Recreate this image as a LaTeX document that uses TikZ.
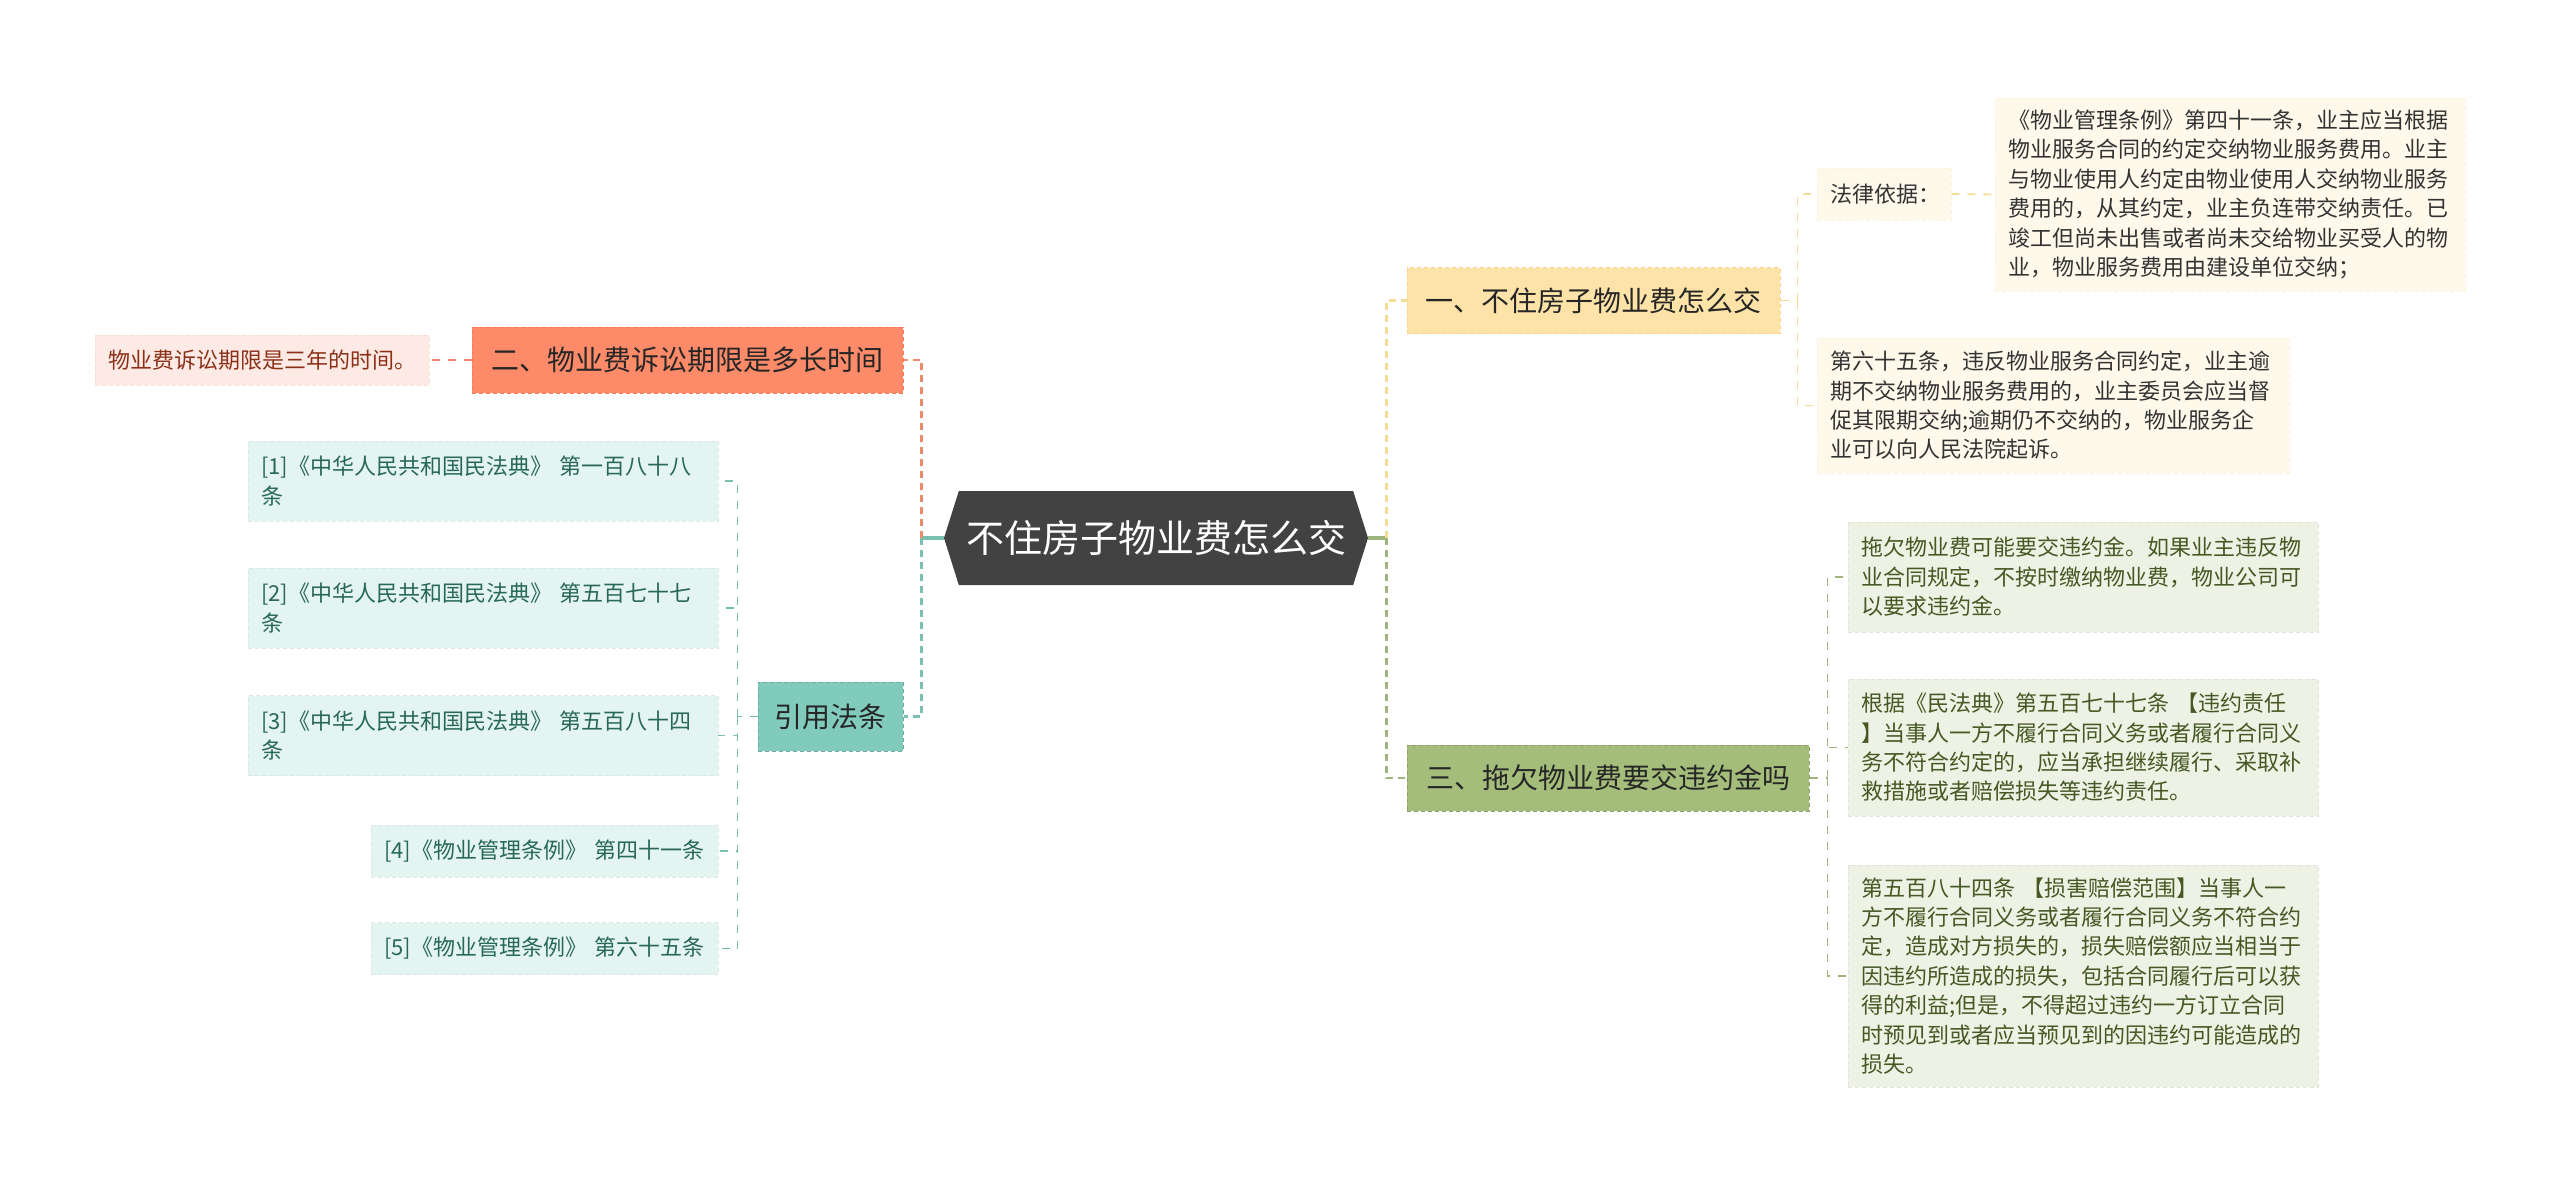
\documentclass[tikz,border=0pt]{standalone}
\usepackage{fontspec}
\setmainfont{Noto Sans CJK SC}
\usetikzlibrary{positioning,shapes.symbols,calc}
\definecolor{RootGray}{RGB}{66,66,66}
\definecolor{YelFill}{RGB}{253,227,168}
\definecolor{YelLine}{RGB}{243,220,150}
\definecolor{YelLeaf}{RGB}{254,249,235}
\definecolor{SalFill}{RGB}{253,138,104}
\definecolor{SalLine}{RGB}{236,138,106}
\definecolor{SalLeaf}{RGB}{253,234,228}
\definecolor{SalText}{RGB}{140,48,24}
\definecolor{OliFill}{RGB}{164,189,122}
\definecolor{OliLine}{RGB}{158,180,124}
\definecolor{OliLeaf}{RGB}{238,242,228}
\definecolor{OliText}{RGB}{70,88,36}
\definecolor{TeaFill}{RGB}{128,203,187}
\definecolor{TeaLine}{RGB}{122,192,176}
\definecolor{TeaLeaf}{RGB}{228,244,240}
\definecolor{TeaText}{RGB}{40,104,90}
\begin{document}
\begin{tikzpicture}[
   x=1pt, y=-1pt,
   root/.style={signal, signal to=west and east, signal pointer angle=145,
               fill=RootGray, text=white, font=\fontsize{38}{44}\selectfont,
               minimum width=424pt, minimum height=94pt, inner sep=0pt},
   topic/.style={rectangle, dash pattern=on 4pt off 3pt, line width=1pt, text=black!85,
               font=\fontsize{28}{34}\selectfont, minimum height=66pt, inner sep=0pt},
   leaf/.style={rectangle, dash pattern=on 4pt off 3pt, line width=0.8pt, align=left,
               inner xsep=13pt, inner ysep=0pt, font=\fontsize{22}{29.4}\selectfont},
   stub/.style={line width=4pt},
   link/.style={line width=2.8pt, dash pattern=on 7pt off 5pt},
   sub/.style={line width=1.8pt, dash pattern=on 8pt off 8pt}]
   \useasboundingbox (0,0) rectangle (2560,1183);
   % centre
   \node[root] (root) at (1156,538) {不住房子物业费怎么交};
   % right, upper branch
   \node[topic, fill=YelFill, draw=YelFill!85!orange, minimum width=373pt] (how) at (1593.5,300.5) {一、不住房子物业费怎么交};
   \node[leaf, fill=YelLeaf, draw=YelLeaf!94!orange, text=black!80, text width=108pt, minimum height=52pt] (law) at (1884,194) {法律依据：};
   \node[leaf, fill=YelLeaf, draw=YelLeaf!94!orange, text=black!80, text width=444pt, minimum height=193pt] (art41) at (2230,194.5)
      {《物业管理条例》第四十一条，业主应当根据\\物业服务合同的约定交纳物业服务费用。业主\\与物业使用人约定由物业使用人交纳物业服务\\费用的，从其约定，业主负连带交纳责任。已\\竣工但尚未出售或者尚未交给物业买受人的物\\业，物业服务费用由建设单位交纳；};
   \node[leaf, fill=YelLeaf, draw=YelLeaf!94!orange, text=black!80, text width=446pt, minimum height=135pt] (art65) at (2053,405.5)
      {第六十五条，违反物业服务合同约定，业主逾\\期不交纳物业服务费用的，业主委员会应当督\\促其限期交纳;逾期仍不交纳的，物业服务企\\业可以向人民法院起诉。};
   % right, lower branch
   \node[topic, fill=OliFill, draw=OliFill!85!black, minimum width=402pt] (fine) at (1608,778) {三、拖欠物业费要交违约金吗};
   \node[leaf, fill=OliLeaf, draw=OliLeaf!94!black, text=OliText, text width=444pt, minimum height=110pt] (owe) at (2083,577)
      {拖欠物业费可能要交违约金。如果业主违反物\\业合同规定，不按时缴纳物业费，物业公司可\\以要求违约金。};
   \node[leaf, fill=OliLeaf, draw=OliLeaf!94!black, text=OliText, text width=444pt, minimum height=137pt] (art577) at (2083,747.5)
      {根据《民法典》第五百七十七条 【违约责任\\】当事人一方不履行合同义务或者履行合同义\\务不符合约定的，应当承担继续履行、采取补\\救措施或者赔偿损失等违约责任。};
   \node[leaf, fill=OliLeaf, draw=OliLeaf!94!black, text=OliText, text width=444pt, minimum height=222pt] (art584) at (2083,976)
      {第五百八十四条 【损害赔偿范围】当事人一\\方不履行合同义务或者履行合同义务不符合约\\定，造成对方损失的，损失赔偿额应当相当于\\因违约所造成的损失，包括合同履行后可以获\\得的利益;但是，不得超过违约一方订立合同\\时预见到或者应当预见到的因违约可能造成的\\损失。};
   % left, upper branch
   \node[topic, fill=SalFill, draw=SalFill!85!red, minimum width=431pt] (limit) at (687.5,360) {二、物业费诉讼期限是多长时间};
   \node[leaf, fill=SalLeaf, draw=SalLeaf!94!red, text=SalText, text width=308pt, minimum height=50pt] (three) at (262,360) {物业费诉讼期限是三年的时间。};
   % left, lower branch
   \node[topic, fill=TeaFill, draw=TeaFill!85!black, minimum width=145pt, minimum height=69pt] (cite) at (830.5,716.5) {引用法条};
   \node[leaf, fill=TeaLeaf, draw=TeaLeaf!95!black, text=TeaText, text width=444pt, minimum height=80pt] (ref1) at (483,481) {[1]《中华人民共和国民法典》 第一百八十八\\条};
   \node[leaf, fill=TeaLeaf, draw=TeaLeaf!95!black, text=TeaText, text width=444pt, minimum height=80pt] (ref2) at (483,608) {[2]《中华人民共和国民法典》 第五百七十七\\条};
   \node[leaf, fill=TeaLeaf, draw=TeaLeaf!95!black, text=TeaText, text width=444pt, minimum height=80pt] (ref3) at (483,735.5) {[3]《中华人民共和国民法典》 第五百八十四\\条};
   \node[leaf, fill=TeaLeaf, draw=TeaLeaf!95!black, text=TeaText, text width=321pt, minimum height=52pt] (ref4) at (544.5,851) {[4]《物业管理条例》 第四十一条};
   \node[leaf, fill=TeaLeaf, draw=TeaLeaf!95!black, text=TeaText, text width=321pt, minimum height=52pt] (ref5) at (544.5,948.5) {[5]《物业管理条例》 第六十五条};
   % connectors
   \draw[stub, OliLine] (root.east) -- ++(18,0) coordinate (rj);
   \draw[link, YelLine] (rj) |- (how.west);
   \draw[link, OliLine] (rj) |- (fine.west);
   \draw[stub, TeaLine] (root.west) -- ++(-22,0) coordinate (lj);
   \draw[link, SalLine] (lj) |- (limit.east);
   \draw[link, TeaLine] (lj) |- (cite.east);
   \draw[sub, YelLine] (how.east) -- ++(17,0) coordinate (hj);
   \draw[sub, YelLine] (hj) |- (law.west);
   \draw[sub, YelLine] (hj) |- (art65.west);
   \draw[sub, YelLine] (law.east) -- (art41.west);
   \draw[sub, OliLine] (fine.east) -- ++(18,0) coordinate (fj);
   \draw[sub, OliLine] (fj) |- (owe.west);
   \draw[sub, OliLine] (fj) |- (art577.west);
   \draw[sub, OliLine] (fj) |- (art584.west);
   \draw[sub, SalLine] (limit.west) -- (three.east);
   \draw[sub, TeaLine] (cite.west) -- ++(-20,0) coordinate (cj);
   \foreach \r in {ref1,ref2,ref3,ref4,ref5}
      \draw[sub, TeaLine] (cj) |- (\r.east);
\end{tikzpicture}
\end{document}
